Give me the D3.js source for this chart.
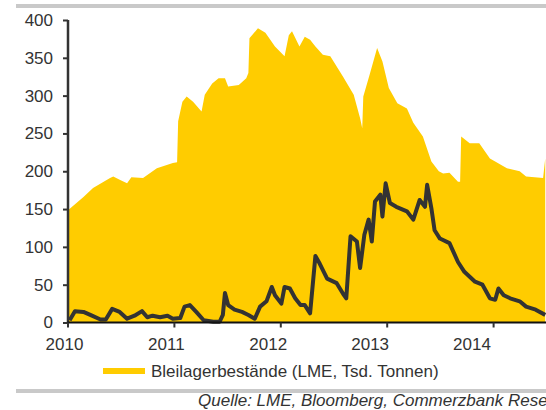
<html>
<head>
    <meta charset="utf-8">
    <title>Bleilagerbestände LME</title>
    <script src="https://cdn.jsdelivr.net/npm/d3@7/dist/d3.min.js"></script>
    <style>
        body { margin: 0; padding: 0; background: #fff; }
        svg text { font-family: "Liberation Sans", Arial, sans-serif; fill: #333; }
    </style>
</head>
<body>
<svg id="chart" width="546" height="410"></svg>
<script type="text/javascript">
    // Bleilagerbestände (LME, Tsd. Tonnen) - Datum als Dezimaljahr
    var stockYears = [2010.01, 2010.15, 2010.24, 2010.40, 2010.43, 2010.50, 2010.56, 2010.60, 2010.71, 2010.84,
        2010.99, 2011.03, 2011.04, 2011.08, 2011.12, 2011.18, 2011.26, 2011.29, 2011.36, 2011.42,
        2011.48, 2011.51, 2011.61, 2011.68, 2011.70, 2011.71, 2011.79, 2011.86, 2011.95, 2012.04,
        2012.08, 2012.11, 2012.18, 2012.23, 2012.28, 2012.33, 2012.40, 2012.47, 2012.59, 2012.69,
        2012.75, 2012.77, 2012.78, 2012.84, 2012.91, 2012.96, 2013.02, 2013.10, 2013.19, 2013.25,
        2013.34, 2013.42, 2013.49, 2013.53, 2013.59, 2013.67, 2013.69, 2013.70, 2013.78, 2013.87,
        2013.97, 2014.13, 2014.25, 2014.31, 2014.47, 2014.49];
    var stockValues = [149, 166, 178, 191, 193, 188, 184, 192, 191, 204,
        211, 212, 266, 292, 299, 292, 279, 301, 316, 323,
        323, 312, 314, 323, 330, 376, 389, 383, 365, 352,
        380, 385, 365, 378, 374, 365, 354, 352, 325, 301,
        270, 257, 299, 328, 363, 345, 310, 290, 283, 264,
        246, 213, 200, 197, 198, 186, 186, 246, 237, 237,
        217, 204, 200, 193, 191, 217];

    // zweite Reihe (Linie)
    var lineYears = [2010.02, 2010.07, 2010.15, 2010.23, 2010.31, 2010.36, 2010.42, 2010.49, 2010.56, 2010.63,
        2010.70, 2010.75, 2010.80, 2010.87, 2010.94, 2010.99, 2011.06, 2011.10, 2011.15, 2011.21,
        2011.28, 2011.37, 2011.43, 2011.46, 2011.48, 2011.51, 2011.57, 2011.64, 2011.70, 2011.76,
        2011.81, 2011.87, 2011.92, 2011.95, 2012.01, 2012.04, 2012.09, 2012.14, 2012.19, 2012.23,
        2012.28, 2012.33, 2012.37, 2012.44, 2012.53, 2012.59, 2012.62, 2012.66, 2012.72, 2012.75,
        2012.79, 2012.83, 2012.86, 2012.89, 2012.94, 2012.96, 2012.99, 2013.03, 2013.09, 2013.19,
        2013.25, 2013.31, 2013.36, 2013.38, 2013.42, 2013.45, 2013.50, 2013.59, 2013.67, 2013.73,
        2013.83, 2013.90, 2013.97, 2014.02, 2014.05, 2014.10, 2014.16, 2014.25, 2014.31, 2014.40,
        2014.49];
    var lineValues = [3, 15, 14, 9, 4, 4, 18, 14, 5, 9,
        15, 7, 9, 7, 9, 5, 6, 21, 23, 14,
        3, 1, 1, 10, 39, 23, 17, 14, 10, 5,
        21, 28, 47, 36, 25, 47, 45, 32, 23, 23,
        12, 88, 78, 58, 52, 38, 32, 114, 107, 72,
        116, 136, 107, 160, 169, 140, 184, 158, 153, 147,
        136, 162, 153, 182, 151, 122, 111, 105, 80, 67,
        54, 50, 32, 30, 45, 36, 32, 28, 21, 17,
        10];

    var yTicks = [0, 50, 100, 150, 200, 250, 300, 350, 400];
    var xTicks = [2010, 2011, 2012, 2013, 2014];
    var legendLabel = "Bleilagerbestände (LME, Tsd. Tonnen)";
    var sourceLabel = "Quelle: LME, Bloomberg, Commerzbank Research";

    var svg = d3.select("#chart");

    // Skalen
    var x = d3.scaleLinear().domain([2010, 2014.5]).range([67.5, 546.3]);
    var xLabel = d3.scaleLinear().domain([2010, 2014]).range([64, 471.5]);
    var y = d3.scaleLinear().domain([0, 400]).range([322.5, 20]);

    var stockData = stockYears.map(function(d, i) { return { t: d, v: stockValues[i] }; });
    var lineData = lineYears.map(function(d, i) { return { t: d, v: lineValues[i] }; });

    // graue Trennlinien oben und unten
    svg.append("rect").attr("x", 16).attr("y", 4).attr("width", 530).attr("height", 4).attr("fill", "#c9c9c9");
    svg.append("rect").attr("x", 16).attr("y", 389).attr("width", 530).attr("height", 4).attr("fill", "#c9c9c9");

    // Fläche
    var area = d3.area()
        .x(function(d) { return x(d.t); })
        .y0(y(0))
        .y1(function(d) { return y(d.v); });

    svg.append("path")
        .datum(stockData)
        .attr("d", area)
        .attr("fill", "#ffcc00");

    // Linie
    var line = d3.line()
        .x(function(d) { return x(d.t); })
        .y(function(d) { return y(d.v); });

    svg.append("path")
        .datum(lineData)
        .attr("d", line)
        .attr("fill", "none")
        .attr("stroke", "#333333")
        .attr("stroke-width", 4)
        .attr("stroke-linejoin", "round");

    // y-Achse
    var yAxis = svg.append("g")
        .attr("transform", "translate(68,0)")
        .call(d3.axisLeft(y).tickValues(yTicks).tickSize(5).tickPadding(10));
    yAxis.select(".domain").attr("stroke", "#333").attr("stroke-width", 2.5).attr("d", "M0," + y(400) + "V" + y(0));
    yAxis.selectAll(".tick line").attr("stroke", "#333").attr("stroke-width", 2);
    yAxis.selectAll(".tick text").attr("font-size", "17px").attr("font-family", "Liberation Sans, Arial, sans-serif").attr("fill", "#333");

    // x-Achse (Striche)
    var xAxis = svg.append("g")
        .attr("transform", "translate(0," + y(0) + ")")
        .call(d3.axisBottom(x).tickValues(xTicks).tickSize(5).tickFormat(""));
    xAxis.select(".domain").attr("stroke", "#111").attr("stroke-width", 2).attr("d", "M67.5,0H546");
    xAxis.selectAll(".tick line").attr("stroke", "#333").attr("stroke-width", 2);

    // x-Achse (Beschriftung)
    var xLabels = svg.append("g")
        .attr("transform", "translate(0," + y(0) + ")")
        .call(d3.axisBottom(xLabel).tickValues(xTicks).tickSize(0).tickPadding(15).tickFormat(d3.format("d")));
    xLabels.select(".domain").remove();
    xLabels.selectAll(".tick text").attr("font-size", "17px").attr("font-family", "Liberation Sans, Arial, sans-serif").attr("fill", "#333");

    // Legende
    svg.append("rect").attr("x", 103).attr("y", 368).attr("width", 42).attr("height", 6).attr("fill", "#ffcc00");
    svg.append("text").attr("x", 151).attr("y", 377).attr("font-size", "17px").text(legendLabel);

    // Quelle (wie im Original am rechten Rand abgeschnitten)
    svg.append("text").attr("x", 198).attr("y", 406).attr("font-size", "17px").attr("font-style", "italic").text(sourceLabel);
</script>
</body>
</html>
